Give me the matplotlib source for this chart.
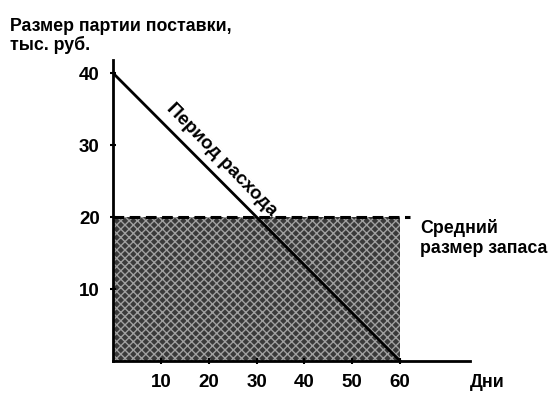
import matplotlib
matplotlib.use("Agg")
import matplotlib.pyplot as plt

plt.rcParams['font.family'] = ['Liberation Sans', 'DejaVu Sans']

# data
days = [0, 60]
stock = [40, 0]
avg_level = 20
avg_x = [0, 62]
fill_x = [0, 60]
xticks = [10, 20, 30, 40, 50, 60]
yticks = [10, 20, 30, 40]

fig = plt.figure(figsize=(5.56, 3.97), dpi=100)
ax = fig.add_axes([0.2032, 0.0907, 0.642, 0.758])
ax.set_xlim(0, 74.6)
ax.set_ylim(0, 41.8)

# textured average stock area
ax.fill_between(fill_x, 0, avg_level, facecolor='#3a3a3a', edgecolor='#a0a0a0',
                hatch='xxxx', linewidth=0, zorder=1)
ax.plot(avg_x, [avg_level, avg_level], color='black', lw=2.2,
        dashes=(3.5, 1.8), zorder=3)
ax.plot(days, stock, color='black', lw=2.0, zorder=4)

for s in ['top', 'right']:
    ax.spines[s].set_visible(False)
for s in ['left', 'bottom']:
    ax.spines[s].set_linewidth(2.0)
    ax.spines[s].set_zorder(5)

ax.set_xticks(xticks)
ax.set_yticks(yticks)
ax.tick_params(axis='both', direction='inout', length=5, width=1.5,
               labelsize=13.5, pad=7)
for lab in ax.get_xticklabels() + ax.get_yticklabels():
    lab.set_fontweight('bold')

fig.text(0.018, 0.955, 'Размер партии поставки,\nтыс. руб.', fontsize=12.8,
         fontweight='bold', va='top', ha='left', linespacing=1.1)
ax.text(64.2, 17.1, 'Средний\nразмер запаса', fontsize=12.8, fontweight='bold',
        va='center', ha='left', linespacing=1.2)
ax.text(74.5, -3.0, 'Дни', fontsize=13, fontweight='bold',
        va='center', ha='left', clip_on=False)
ax.text(22.6, 28.0, 'Период расхода', fontsize=13.5, fontweight='bold',
        rotation=-45.7, rotation_mode='anchor', ha='center', va='center',
        zorder=2)

fig.savefig('out.png', dpi=100)
